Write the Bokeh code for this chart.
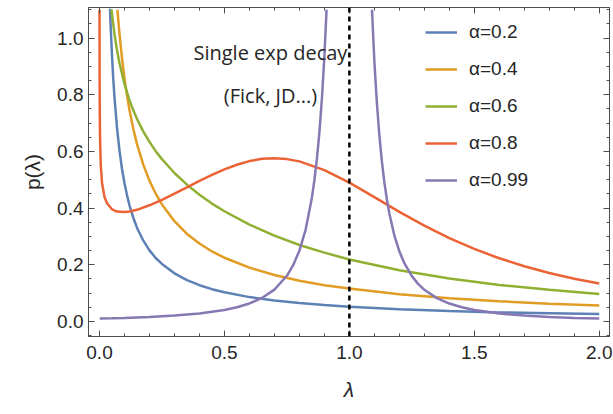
from bokeh.plotting import figure
from bokeh.models import (Range1d, FixedTicker, LinearAxis, PrintfTickFormatter,
                          CustomJSTickFormatter, CustomLabelingPolicy, Span, Label,
                          Legend, LegendItem)
from bokeh.embed import file_html
from bokeh.resources import INLINE

nan = float("nan")

# Rate distributions p(lambda) for several stretching exponents alpha
lam_a02 = [0.042, 0.045, 0.05, 0.055, 0.06, 0.07, 0.08, 0.09, 0.1, 0.11, 0.12, 0.135, 0.15,
           0.175, 0.2, 0.225, 0.25, 0.3, 0.35, 0.4, 0.45, 0.5, 0.6, 0.7, 0.8, 0.9, 1.0,
           1.2, 1.4, 1.6, 1.8, 2.0]
p_a02 = [1.104, 1.036, 0.938, 0.858, 0.791, 0.684, 0.603, 0.539, 0.488, 0.446, 0.410, 0.367, 0.331,
         0.286, 0.251, 0.224, 0.203, 0.170, 0.146, 0.128, 0.114, 0.103, 0.086, 0.074, 0.065, 0.058, 0.052,
         0.043, 0.037, 0.032, 0.029, 0.026]

lam_a04 = [0.0718, 0.08, 0.09, 0.1, 0.11, 0.12, 0.135, 0.15, 0.175, 0.2, 0.225, 0.25, 0.3,
           0.35, 0.4, 0.45, 0.5, 0.6, 0.7, 0.8, 0.9, 1.0, 1.2, 1.4, 1.6, 1.8, 2.0]
p_a04 = [1.100, 1.015, 0.929, 0.858, 0.798, 0.746, 0.681, 0.626, 0.554, 0.497, 0.451, 0.413, 0.354,
         0.309, 0.275, 0.247, 0.225, 0.190, 0.164, 0.144, 0.128, 0.116, 0.096, 0.082, 0.071, 0.063, 0.056]

lam_a06 = [0.048, 0.05, 0.06, 0.07, 0.08, 0.1, 0.12, 0.135, 0.15, 0.175, 0.2, 0.225, 0.25,
           0.3, 0.35, 0.4, 0.45, 0.5, 0.6, 0.7, 0.8, 0.9, 1.0, 1.2, 1.4, 1.6, 1.8, 2.0]
p_a06 = [1.101, 1.085, 1.014, 0.958, 0.911, 0.838, 0.781, 0.746, 0.715, 0.671, 0.634, 0.601, 0.573,
         0.524, 0.483, 0.447, 0.416, 0.389, 0.342, 0.303, 0.270, 0.243, 0.219, 0.181, 0.152, 0.129,
         0.112, 0.097]

lam_a08 = [0.00014, 0.0005, 0.001, 0.002, 0.005, 0.01, 0.02, 0.03, 0.05, 0.07, 0.1, 0.12,
           0.15, 0.2, 0.25, 0.3, 0.35, 0.4, 0.45, 0.5, 0.55, 0.6, 0.65, 0.7, 0.75, 0.8,
           0.9, 1.0, 1.1, 1.2, 1.3, 1.4, 1.5, 1.6, 1.7, 1.8, 1.9, 2.0]
p_a08 = [1.100, 0.859, 0.750, 0.656, 0.553, 0.490, 0.439, 0.417, 0.396, 0.388, 0.386, 0.388,
         0.394, 0.410, 0.429, 0.451, 0.473, 0.496, 0.517, 0.537, 0.553, 0.566, 0.574, 0.576, 0.573, 0.565,
         0.534, 0.490, 0.439, 0.387, 0.338, 0.294, 0.256, 0.223, 0.195, 0.171, 0.151, 0.134]

# alpha = 0.99: sharply peaked at lambda = 1, gap where it leaves the plot
lam_a099 = [0.001, 0.05, 0.1, 0.2, 0.3, 0.4, 0.5, 0.55, 0.6, 0.65, 0.7, 0.75, 0.775, 0.8,
            0.825, 0.85, 0.86, 0.87, 0.88, 0.89, 0.9, 0.9087, nan,
            1.0905, 1.1, 1.11, 1.12, 1.13, 1.14, 1.15, 1.16, 1.18, 1.2, 1.22, 1.25, 1.275,
            1.3, 1.35, 1.4, 1.45, 1.5, 1.6, 1.7, 1.8, 1.9, 2.0]
p_a099 = [0.0107, 0.0115, 0.0127, 0.0160, 0.0209, 0.0283, 0.0408, 0.0503, 0.0636, 0.0829, 0.1125,
          0.1613, 0.1985, 0.2500, 0.3243, 0.4370, 0.4985, 0.5738, 0.6674, 0.7850, 0.9354, 1.100, nan,
          1.100, 0.9184, 0.7718, 0.6570, 0.5656, 0.4917, 0.4312, 0.3811, 0.3037, 0.2476, 0.2056,
          0.1600, 0.1327, 0.1117, 0.0824, 0.0632, 0.0500, 0.0406, 0.0282, 0.0208, 0.0159, 0.0126,
          0.0102]

series_labels = ["α=0.2", "α=0.4", "α=0.6", "α=0.8", "α=0.99"]
colors = ["#5E81B5", "#E19C24", "#8FB032", "#EB6235", "#8778B3"]

x_major = [0.0, 0.5, 1.0, 1.5, 2.0]
x_minor = [i / 10 for i in range(0, 21) if i % 5 != 0]
y_major = [0.0, 0.2, 0.4, 0.6, 0.8, 1.0]
y_minor = [i / 20 for i in range(-1, 23) if i % 4 != 0]

annotation_lines = ["Single exp decay", "(Fick, JD...)"]

FRAME = "#4d4d4d"
TEXT = "#262626"
TICK_FONT = "Liberation Sans"

p = figure(width=613, height=414, output_backend="svg", toolbar_location=None,
           x_range=Range1d(-0.044, 2.041), y_range=Range1d(-0.053, 1.108),
           min_border_left=88, min_border_right=4, min_border_top=7, min_border_bottom=78,
           x_axis_location=None, y_axis_location=None)
p.xgrid.visible = False
p.ygrid.visible = False
p.outline_line_color = FRAME
p.outline_line_width = 1
p.background_fill_color = "white"
p.border_fill_color = "white"

xticker = FixedTicker(ticks=x_major, minor_ticks=x_minor)
yticker = FixedTicker(ticks=y_major, minor_ticks=y_minor)


def style_axis(ax, show_labels):
    ax.axis_line_color = FRAME
    ax.major_tick_line_color = FRAME
    ax.minor_tick_line_color = FRAME
    ax.major_tick_in = 6
    ax.major_tick_out = 0
    ax.minor_tick_in = 3
    ax.minor_tick_out = 0
    ax.major_label_text_font = TICK_FONT
    ax.major_label_text_font_size = "19px"
    ax.major_label_text_color = TEXT
    if show_labels:
        ax.formatter = PrintfTickFormatter(format="%.1f")
    else:
        # frame side: ticks only, no labels and no space reserved for them
        ax.formatter = CustomJSTickFormatter(code="return ''")
        ax.major_label_policy = CustomLabelingPolicy(code="""
            for (const i of indices) {
                indices.unset(i)
            }
            return indices
        """)
        ax.major_label_standoff = 0


xb = LinearAxis(ticker=xticker, axis_label="λ")
style_axis(xb, True)
xb.major_label_standoff = 9
xb.axis_label_text_font = TICK_FONT
xb.axis_label_text_font_style = "italic"
xb.axis_label_text_font_size = "21px"
xb.axis_label_text_color = TEXT
xb.axis_label_standoff = 16
p.add_layout(xb, "below")

yl = LinearAxis(ticker=yticker, axis_label="p(λ)")
style_axis(yl, True)
yl.major_label_standoff = 5
yl.axis_label_text_font = TICK_FONT
yl.axis_label_text_font_style = "normal"
yl.axis_label_text_font_size = "21px"
yl.axis_label_text_color = TEXT
yl.axis_label_standoff = 10
p.add_layout(yl, "left")

xt = LinearAxis(ticker=xticker)
style_axis(xt, False)
p.add_layout(xt, "above")

yr = LinearAxis(ticker=yticker)
style_axis(yr, False)
p.add_layout(yr, "right")

# dashed marker at lambda = 1 (single exponential decay)
p.add_layout(Span(location=1.0, dimension="height", line_color="black",
                  line_width=2.5, line_dash="5 4"))

renderers = []
for xs, ys, c in zip([lam_a02, lam_a04, lam_a06, lam_a08, lam_a099],
                     [p_a02, p_a04, p_a06, p_a08, p_a099], colors):
    renderers.append(p.line(xs, ys, line_color=c, line_width=2.5))

for txt, yv in zip(annotation_lines, [0.949, 0.797]):
    p.add_layout(Label(x=0.684, y=yv, text=txt, text_align="center", text_baseline="middle",
                       text_font="Open Sans", text_font_size="20px", text_color=TEXT))

legend = Legend(items=[LegendItem(label=l, renderers=[r]) for l, r in zip(series_labels, renderers)],
                location=(337, 145), orientation="vertical")
legend.border_line_color = None
legend.background_fill_alpha = 0
legend.padding = 0
legend.margin = 0
legend.glyph_width = 32
legend.glyph_height = 20
legend.label_height = 20
legend.spacing = 15
legend.label_standoff = 12
legend.label_text_font = TICK_FONT
legend.label_text_font_size = "19px"
legend.label_text_color = TEXT
p.add_layout(legend)

open("out.html", "w").write(file_html(p, INLINE))
